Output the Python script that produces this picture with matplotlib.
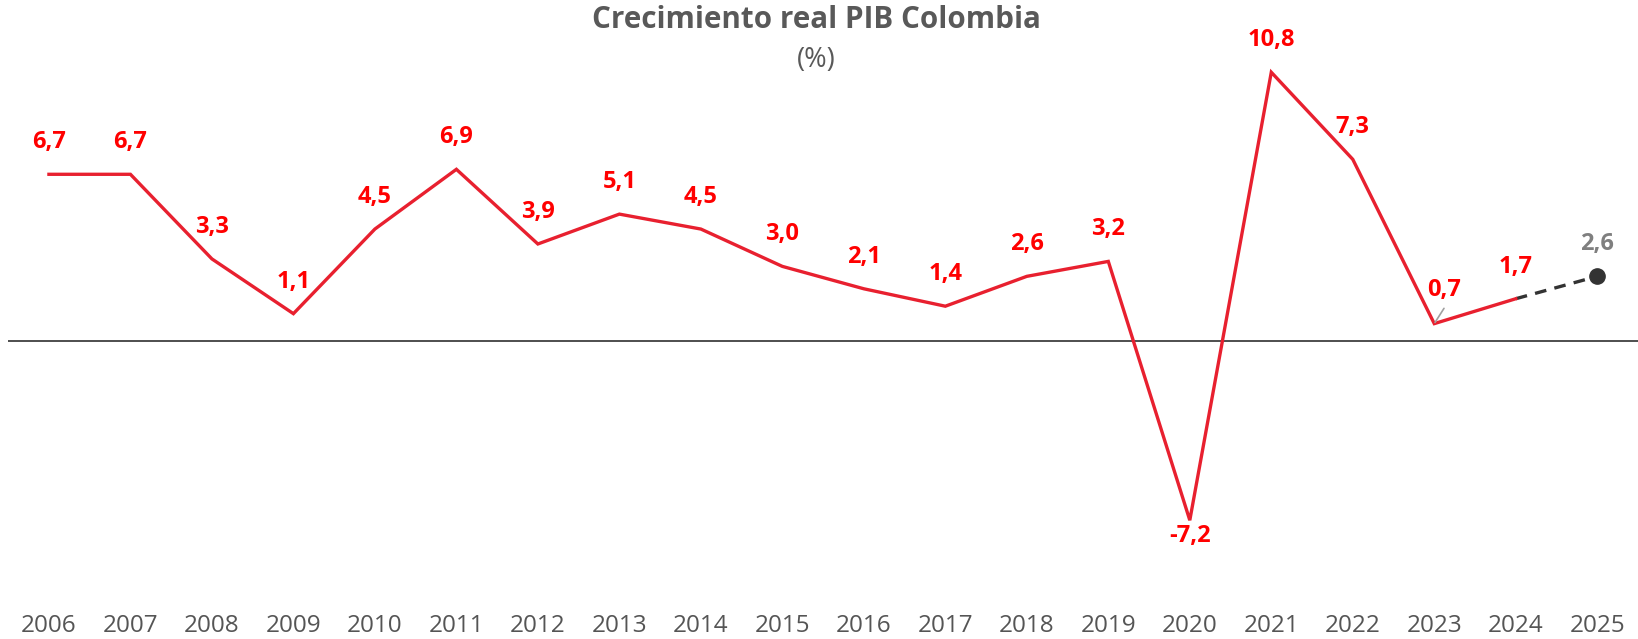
import matplotlib
matplotlib.use("Agg")
import matplotlib.pyplot as plt

years = [str(y) for y in range(2006, 2026)]
real_values = [6.7, 6.7, 3.3, 1.1, 4.5, 6.9, 3.9, 5.1, 4.5, 3.0, 2.1, 1.4, 2.6, 3.2, -7.2, 10.8, 7.3, 0.7, 1.7]
proj_years = ["2024", "2025"]
proj_values = [1.7, 2.6]

RED = "#E8202F"
LABEL_RED = "#FF0000"
DARK = "#333333"
GRAY_TXT = "#555555"

plt.rcParams['font.family'] = ['Open Sans', 'DejaVu Sans']

fig = plt.figure(figsize=(16.38, 6.39), dpi=100)
ax = fig.add_axes([0.005, 0.1352, 0.995, 0.779])

x_real = list(range(len(real_values)))
x_proj = [years.index(y) for y in proj_years]

ax.axhline(0, color="#404040", lw=1.3, zorder=1)
ax.plot(x_real, real_values, color=RED, lw=2.4, zorder=3, solid_joinstyle='miter')
ax.plot(x_proj, proj_values, color=DARK, lw=2.4, ls=(0, (3.5, 2.5)), zorder=2)
ax.plot([x_proj[-1]], [proj_values[-1]], 'o', color=DARK, ms=11, zorder=4)

def fmt(v):
    return f"{v:.1f}".replace(".", ",")

LS = 17
for xi, v in zip(x_real, real_values):
    if v < 0:
        ax.annotate(fmt(v), (xi, v), xytext=(0, -11), textcoords='offset points',
                    ha='center', va='center', color=LABEL_RED, fontsize=LS, fontweight='bold')
    elif years[xi] == "2023":
        ax.annotate(fmt(v), (xi, v), xytext=(7, 24), textcoords='offset points',
                    ha='center', va='center', color=LABEL_RED, fontsize=LS, fontweight='bold')
        ax.annotate("", (xi, v), xytext=(7, 11), textcoords='offset points',
                    arrowprops=dict(arrowstyle='-', color='#A0A0A0', lw=1.2, shrinkA=0, shrinkB=1))
    else:
        ax.annotate(fmt(v), (xi, v), xytext=(0, 23), textcoords='offset points',
                    ha='center', va='center', color=LABEL_RED, fontsize=LS, fontweight='bold')

ax.annotate(fmt(proj_values[-1]), (x_proj[-1], proj_values[-1]), xytext=(0, 23),
            textcoords='offset points', ha='center', va='center', color="#7F7F7F",
            fontsize=LS, fontweight='bold')

ax.set_xlim(-0.5, len(years) - 0.5)
ax.set_ylim(-8.5, 11.5)
ax.set_xticks(range(len(years)))
ax.set_xticklabels(years, fontsize=17.5, color=GRAY_TXT)
ax.tick_params(axis='x', length=0, pad=44)
ax.set_yticks([])
for s in ax.spines.values():
    s.set_visible(False)

fig.text(816 / 1638, 1 - 20 / 639, "Crecimiento real PIB Colombia", ha='center', va='center',
         fontsize=21.3, fontweight='bold', color="#595959")
fig.text(816 / 1638, 1 - 60 / 639, "(%)", ha='center', va='center',
         fontsize=19.5, color="#595959")

fig.savefig("out.png", dpi=100)
